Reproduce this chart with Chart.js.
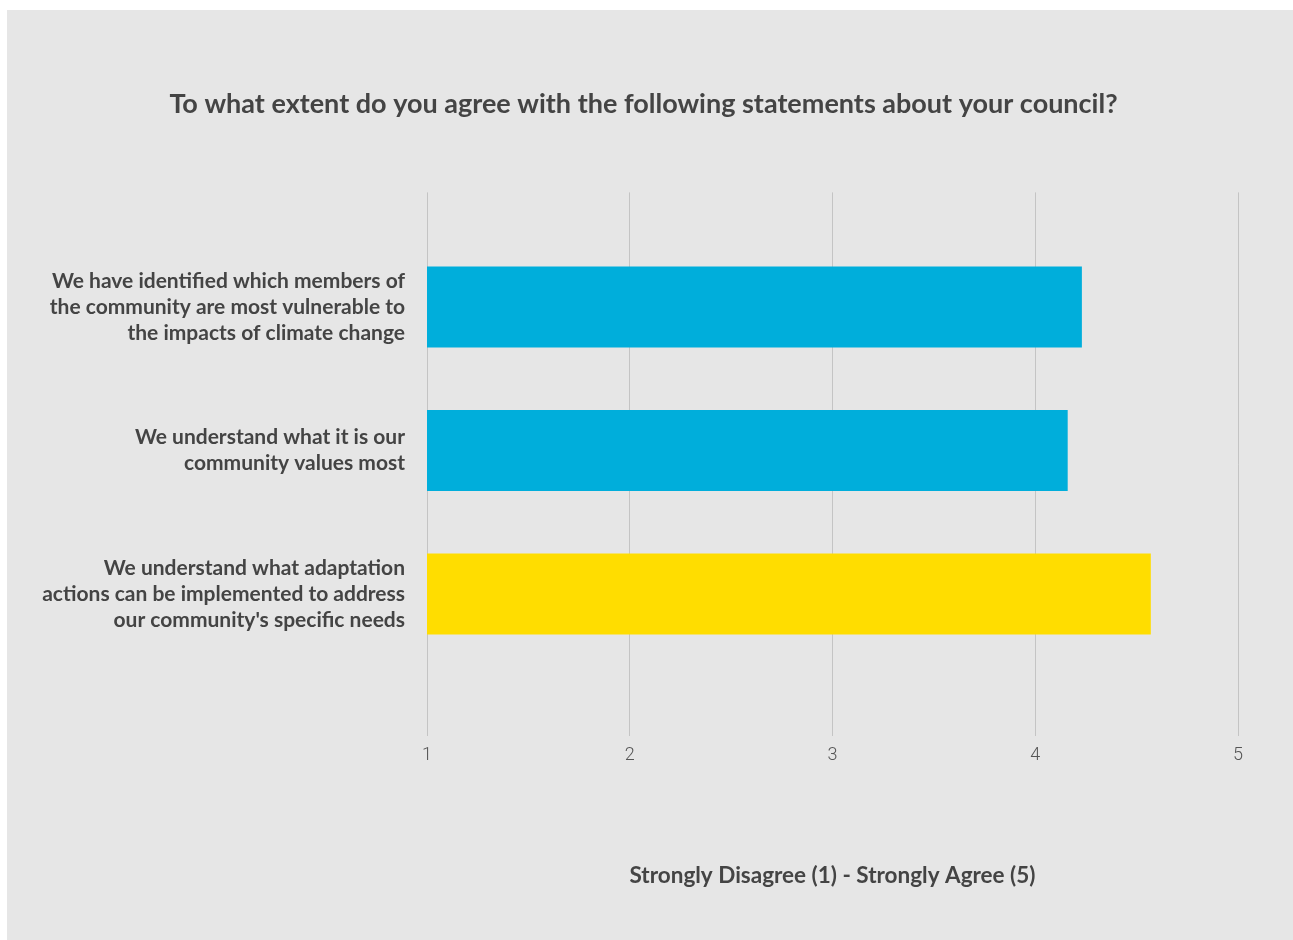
<!DOCTYPE html>
<html>
<head>
<meta charset="utf-8">
<script src="https://cdn.jsdelivr.net/npm/chart.js@4.4.1/dist/chart.umd.min.js"></script>
<style>
  html, body { margin: 0; padding: 0; background: #fff; }
  #panel { position: absolute; left: 7px; top: 10px; width: 1286px; height: 930px; background: #e6e6e6; }
  #chart { display: block; }
</style>
</head>
<body>
<div id="panel"><canvas id="chart" width="1286" height="930"></canvas></div>
<script>
// ── DATA ───────────────────────────────────────────────────────
const statements = [
  ['We have identified which members of', 'the community are most vulnerable to', 'the impacts of climate change'],
  ['We understand what it is our', 'community values most'],
  ['We understand what adaptation', 'actions can be implemented to address', "our community's specific needs"]
];
const scores = [4.23, 4.16, 4.57];
const barColors = ['#00aedb', '#00aedb', '#ffdd00'];
const scaleTicks = [1, 2, 3, 4, 5];

const TEXT = '#444444';
const FONT = "Lato, 'Open Sans', sans-serif";

const ctx = document.getElementById('chart').getContext('2d');
new Chart(ctx, {
  type: 'bar',
  data: {
    datasets: [{
      data: scores.map((v, i) => ({ x: v, y: i })),
      backgroundColor: barColors,
      borderWidth: 0,
      categoryPercentage: 1,
      barPercentage: 0.565
    }]
  },
  options: {
    indexAxis: 'y',
    responsive: false,
    animation: false,
    layout: { padding: { left: 0, right: 13, top: 0, bottom: 0 } },
    plugins: {
      legend: { display: false },
      tooltip: { enabled: false },
      title: {
        display: true,
        text: 'To what extent do you agree with the following statements about your council?',
        color: TEXT,
        font: { family: FONT, size: 27, weight: 'bold', lineHeight: 1.2 },
        padding: { top: 78, bottom: 72 }
      }
    },
    scales: {
      x: {
        type: 'linear',
        position: 'bottom',
        min: 1, max: 5,
        afterBuildTicks: s => { s.ticks = scaleTicks.map(v => ({ value: v })); },
        grid: { color: '#c4c4c4', lineWidth: 1, drawTicks: false },
        border: { display: false },
        ticks: { color: '#555', padding: 9, font: { family: 'Roboto', size: 18, weight: '300' } },
        title: {
          display: true,
          text: 'Strongly Disagree (1) - Strongly Agree (5)',
          color: TEXT,
          font: { family: FONT, size: 22.5, weight: 'bold', lineHeight: 1.2 },
          padding: { top: 0, bottom: 50.5 }
        },
        afterFit: s => { s.height = 204; }
      },
      y: {
        type: 'linear',
        reverse: true,
        offset: false,
        min: -0.798, max: 2.99,
        afterBuildTicks: s => { s.ticks = statements.map((_, i) => ({ value: i })); },
        grid: { display: false, drawTicks: false, offset: false },
        border: { display: false },
        ticks: {
          color: TEXT,
          padding: 22,
          font: { family: FONT, size: 21, weight: 'bold', lineHeight: 1.24 },
          callback: v => statements[v] || ''
        },
        afterFit: s => { s.width = 420; }
      },
      // empty right margin so the plot ends where the reference does
      yRight: {
        type: 'linear',
        position: 'right',
        grid: { display: false, drawTicks: false },
        border: { display: false },
        ticks: { display: false },
        afterFit: s => { s.width = 42; }
      }
    }
  }
});
</script>
</body>
</html>
